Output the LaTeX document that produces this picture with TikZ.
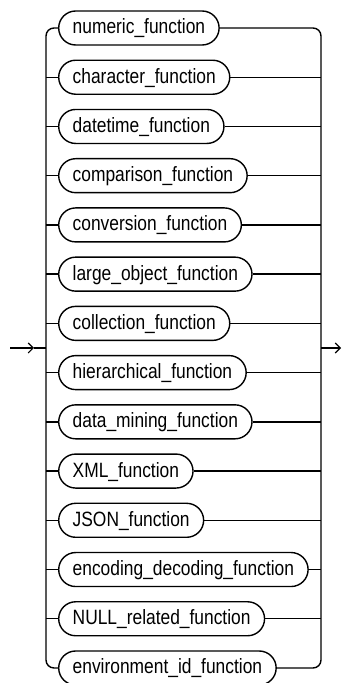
\documentclass[tikz,border=0pt]{standalone}
\usepackage{fontspec}
\setmainfont{Liberation Sans}[FakeStretch=0.84]
\usetikzlibrary{arrows.meta}
\begin{document}
\begin{tikzpicture}[x=1pt,y=1pt,
  fn/.style={draw, line width=1.4pt, rounded corners=17pt, minimum height=34pt,
    inner xsep=14pt, inner ysep=0pt, text height=12pt, text depth=0pt, anchor=west,
    font=\fontsize{20.7}{21}\selectfont},
  conn/.style={line width=1.4pt},
  barb/.style={-{Straight Barb[length=5pt,width=10pt,line width=1.1pt]}}]
\useasboundingbox (0,0) rectangle (342,683);
\foreach \t [count=\i from 0] in {numeric\_function,character\_function,datetime\_function,comparison\_function,conversion\_function,large\_object\_function,collection\_function,hierarchical\_function,data\_mining\_function,XML\_function,JSON\_function,encoding\_decoding\_function,NULL\_related\_function,environment\_id\_function}{
  \pgfmathsetmacro{\yy}{683-28-49.23*\i}
  \node[fn] (n\i) at (58,\yy) {\t};
  \coordinate (L\i) at (46,\yy);
  \coordinate (R\i) at (321,\yy);
}
% outer rails with rounded corners
\draw[conn, rounded corners=8pt] (n0.west) -- (L0) -- (L13) -- (n13.west);
\draw[conn, rounded corners=8pt] (n0.east) -- (R0) -- (R13) -- (n13.east);
\foreach \i in {1,...,12}{
  \draw[conn] (L\i) -- (n\i.west);
  \draw[conn] (n\i.east) -- (R\i);
}
% entry and exit
\coordinate (inS) at (10,335);
\coordinate (inT) at (34,335);
\coordinate (inB) at (46,335);
\coordinate (outS) at (321,335);
\coordinate (outT) at (341,335);
\draw[conn, barb] (inS) -- (inT);
\draw[conn] (inT) -- (inB);
\draw[conn, barb] (outS) -- (outT);
\end{tikzpicture}
\end{document}
